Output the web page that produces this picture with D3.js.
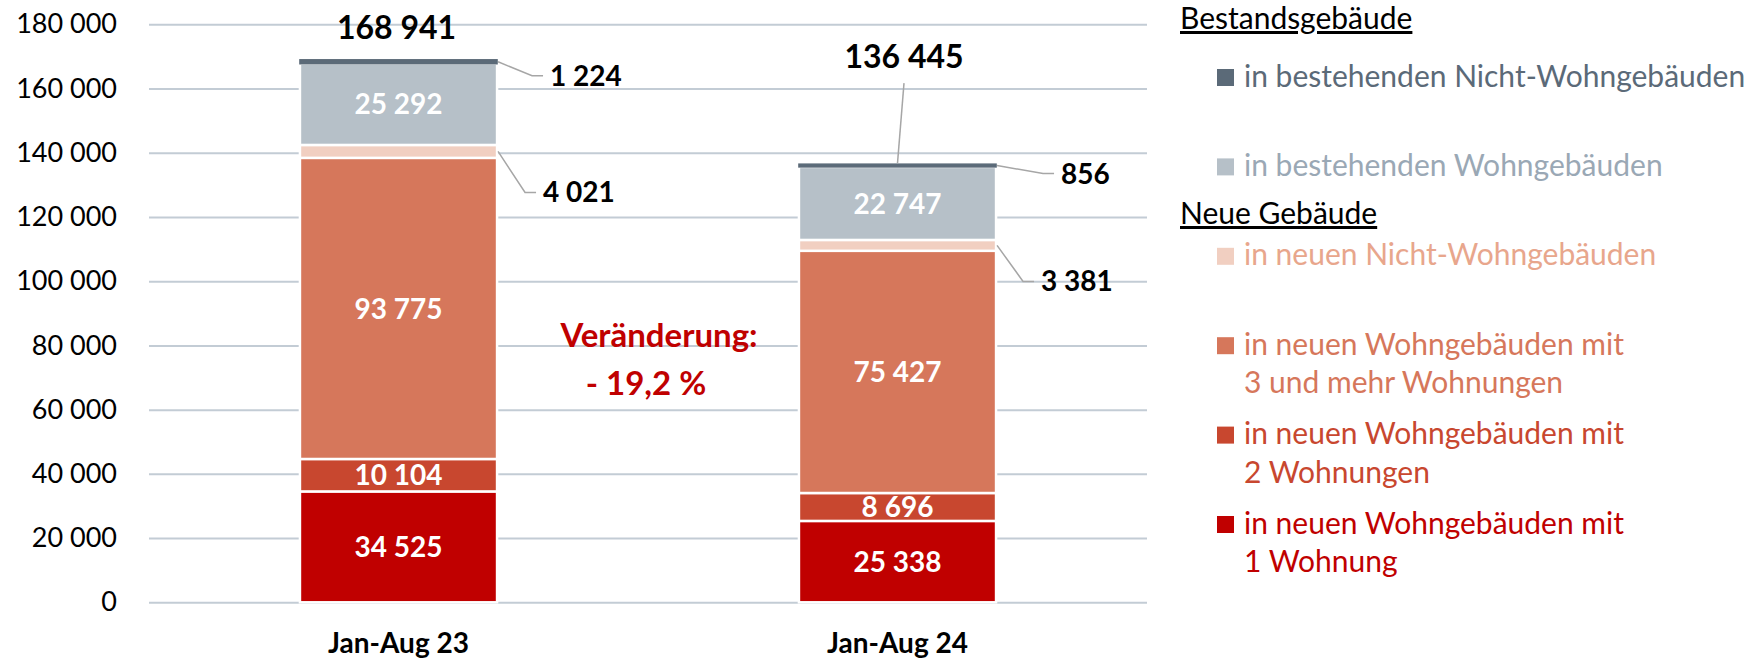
<!DOCTYPE html>
<html>
<head>
<meta charset="utf-8">
<script src="https://cdn.jsdelivr.net/npm/d3@7"></script>
<style>
  html, body { margin: 0; padding: 0; background: #fff; }
  svg { display: block; font-family: Lato, "Open Sans", sans-serif; }
</style>
</head>
<body>
<div id="chart"></div>
<script>
// Daten
const categories = ["Jan-Aug 23", "Jan-Aug 24"];
const keys = ["w1", "w2", "w3", "nnw", "bw", "bnw"]; // Stapelreihenfolge von unten nach oben
const neuWohn1 = [34525, 25338];
const neuWohn2 = [10104, 8696];
const neuWohn3 = [93775, 75427];
const neuNichtWohn = [4021, 3381];
const bestWohn = [25292, 22747];
const bestNichtWohn = [1224, 856];
const yTicks = [0, 20000, 40000, 60000, 80000, 100000, 120000, 140000, 160000, 180000];

const legendLabels = {
  bnw: ["in bestehenden Nicht-Wohngebäuden"],
  bw: ["in bestehenden Wohngebäuden"],
  nnw: ["in neuen Nicht-Wohngebäuden"],
  w3: ["in neuen Wohngebäuden mit", "3 und mehr Wohnungen"],
  w2: ["in neuen Wohngebäuden mit", "2 Wohnungen"],
  w1: ["in neuen Wohngebäuden mit", "1 Wohnung"]
};

const fill = { w1: "#c00000", w2: "#c8472f", w3: "#d6775b", nnw: "#f1cfc1", bw: "#b6c0c8", bnw: "#5b6a78" };
const textColor = { w1: "#c00000", w2: "#c8472f", w3: "#d6775b", nnw: "#e8a68c", bw: "#9aa8b5", bnw: "#5b6a78" };

const W = 1744, H = 659;
const FONT = "Lato, 'Open Sans', sans-serif";
const de = d3.formatLocale({ decimal: ",", thousands: " ", grouping: [3], currency: ["", " €"] });
const fmt = de.format(",d");

const rows = categories.map((c, i) => ({
  cat: c, w1: neuWohn1[i], w2: neuWohn2[i], w3: neuWohn3[i],
  nnw: neuNichtWohn[i], bw: bestWohn[i], bnw: bestNichtWohn[i]
}));
const series = d3.stack().keys(keys)(rows);

const svg = d3.select("#chart").append("svg").attr("width", W).attr("height", H);

const x = d3.scaleBand().domain(categories).range([149, 1147]).paddingInner(0.605).paddingOuter(0.3025);
const y = d3.scaleLinear().domain([0, 180000]).range([602.3, 24.3]);

// Gitterlinien + y-Achse
const yAxis = svg.append("g")
  .attr("transform", "translate(149,0)")
  .call(d3.axisLeft(y).tickValues(yTicks).tickFormat(fmt).tickSize(-(1147 - 149)).tickPadding(32))
  .attr("font-family", FONT);
yAxis.select(".domain").remove();
yAxis.selectAll(".tick line").attr("stroke", "#c3ccd5").attr("stroke-width", 2);
yAxis.selectAll(".tick text").attr("font-size", 27).attr("fill", "#000");

// Balken
const layer = svg.append("g").selectAll("g").data(series).join("g");
layer.selectAll("rect").data(d => d.map(v => Object.assign(v, { key: d.key })))
  .join("rect")
  .attr("x", d => x(d.data.cat))
  .attr("y", d => y(d[1]))
  .attr("width", x.bandwidth())
  .attr("height", d => y(d[0]) - y(d[1]))
  .attr("fill", d => fill[d.key])
  .attr("stroke", d => d.key === "bnw" ? fill.bnw : "#fff")
  .attr("stroke-width", d => d.key === "bnw" ? 1.5 : 2.5);

// Werte in den Balken
const inside = ["w1", "w2", "w3", "bw"];
series.filter(s => inside.includes(s.key)).forEach(s => {
  svg.append("g").selectAll("text").data(s).join("text")
    .attr("x", d => x(d.data.cat) + x.bandwidth() / 2)
    .attr("y", d => (y(d[0]) + y(d[1])) / 2)
    .attr("dy", "0.36em")
    .attr("text-anchor", "middle")
    .attr("font-size", 28).attr("font-weight", 700).attr("fill", "#fff")
    .text(d => fmt(d.data[s.key]));
});

// Werte neben den Balken mit Führungslinien
const outside = [
  { key: "bnw", i: 0, ex: 34, ey: 14 },
  { key: "nnw", i: 0, ex: 27, ey: 41 },
  { key: "bnw", i: 1, ex: 46, ey: 8 },
  { key: "nnw", i: 1, ex: 26, ey: 36 }
];
const callouts = svg.append("g");
outside.forEach(o => {
  const s = series.find(s => s.key === o.key)[o.i];
  const ax = x(s.data.cat) + x.bandwidth() + 1;
  const ay = (y(s[0]) + y(s[1])) / 2;
  const ex = ax + o.ex, ey = ay + o.ey;
  callouts.append("path")
    .attr("d", d3.line()([[ax, ay], [ex, ey], [ex + 11, ey]]))
    .attr("fill", "none").attr("stroke", "#a6a6a6").attr("stroke-width", 1.5);
  callouts.append("text")
    .attr("x", ex + 18).attr("y", ey).attr("dy", "0.36em")
    .attr("font-size", 28).attr("font-weight", 700).attr("fill", "#000")
    .text(fmt(s.data[o.key]));
});

// Summen
const topSeries = series[series.length - 1];
const totalPos = [{ dx: -2, dy: -21, leader: false }, { dx: 6.5, dy: -96, leader: true }];
topSeries.forEach((d, i) => {
  const cx = x(d.data.cat) + x.bandwidth() / 2;
  const p = totalPos[i];
  if (p.leader) {
    svg.append("line")
      .attr("x1", cx + p.dx).attr("y1", y(d[1]) + p.dy + 15)
      .attr("x2", cx).attr("y2", y(d[1]) - 1)
      .attr("stroke", "#a6a6a6").attr("stroke-width", 1.5);
  }
  svg.append("text")
    .attr("x", cx + p.dx).attr("y", y(d[1]) + p.dy)
    .attr("text-anchor", "middle")
    .attr("font-size", 32).attr("font-weight", 700).attr("fill", "#000")
    .text(fmt(d[1]));
});

// Veränderung
const change = (topSeries[1][1] / topSeries[0][1] - 1) * 100;
svg.append("text").attr("x", 659).attr("y", 347).attr("text-anchor", "middle")
  .attr("font-size", 33).attr("font-weight", 700).attr("fill", "#c00000")
  .text("Veränderung:");
svg.append("text").attr("x", 646).attr("y", 395).attr("text-anchor", "middle")
  .attr("font-size", 33).attr("font-weight", 700).attr("fill", "#c00000")
  .text((change < 0 ? "- " : "+ ") + de.format(".1f")(Math.abs(change)) + " %");

// x-Achse
svg.append("g").attr("transform", "translate(0,602)")
  .call(d3.axisBottom(x).tickSize(0).tickPadding(0))
  .attr("font-family", FONT)
  .call(g => g.select(".domain").remove())
  .selectAll("text")
  .attr("y", 51).attr("dy", 0)
  .attr("font-size", 28).attr("font-weight", 700).attr("fill", "#000");

// Legende
const lg = svg.append("g").attr("font-size", 30);
const heads = [{ t: "Bestandsgebäude", y: 29 }, { t: "Neue Gebäude", y: 224 }];
lg.selectAll("text.head").data(heads).join("text").attr("class", "head")
  .attr("x", 1180).attr("y", d => d.y)
  .attr("fill", "#000").style("text-decoration", "underline")
  .text(d => d.t);

const legendOrder = keys.slice().reverse();
const item = lg.selectAll("g.item").data(legendOrder).join("g").attr("class", "item")
  .attr("transform", (k, i) => `translate(1217,${77.5 + i * 89.4})`);
item.append("rect").attr("x", 0).attr("y", -8.5).attr("width", 17).attr("height", 17)
  .attr("fill", k => fill[k]);
item.each(function (k) {
  d3.select(this).selectAll("text").data(legendLabels[k]).join("text")
    .attr("x", 27).attr("y", (t, j) => 9 + j * 38.5)
    .attr("fill", textColor[k])
    .text(t => t);
});
</script>
</body>
</html>
